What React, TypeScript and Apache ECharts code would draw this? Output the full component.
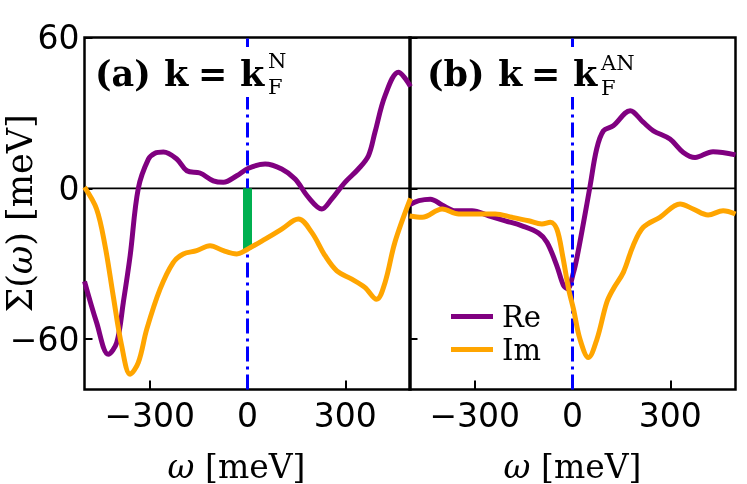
import React, { useEffect, useRef } from "react";
import * as echarts from "echarts";

const xTicks = [-300, 0, 300];
const yTicks = [-60, 0, 60];

// Panel (a): k = kF^N
const reNX = [-500, -463, -427, -401, -381, -360, -335, -304, -284, -258, -217, -186, -146, -105, -74, -33, 3, 54, 105, 146, 187, 228, 258, 299, 340, 371, 391, 422, 463, 500];
const reNY = [-37, -53.3, -66, -61.3, -45.4, -26.8, 0, 11.6, 14, 14.5, 11.7, 7, 6.1, 3, 2.4, 5, 8, 9.7, 7.7, 3.7, -3.6, -8.2, -4.3, 2.4, 7.7, 13, 22.3, 36.9, 46.2, 40.5];
const imNX = [-500, -463, -437, -412, -386, -360, -335, -309, -268, -228, -197, -156, -115, -74, -33, 0, 54, 105, 156, 197, 238, 274, 320, 360, 396, 422, 452, 500];
const imNY = [0.5, -8.2, -22.8, -42.7, -62.6, -73.9, -69.3, -56, -40, -29.5, -26.1, -24.8, -22.8, -24.8, -26.1, -24.2, -20.2, -16.2, -12.2, -17.5, -26.8, -32.8, -36.1, -39.4, -44.1, -37.4, -21.5, -4];
const imAtZeroN = -24.2;

// Panel (b): k = kF^AN
const reANX = [-500, -471, -436, -400, -359, -308, -257, -206, -155, -104, -78, -48, -28, -15, 3, 13, 34, 54, 74, 95, 125, 177, 217, 248, 299, 340, 376, 431, 500];
const reANY = [-6.5, -4.9, -4.3, -6.6, -8.9, -8.9, -10.9, -12.9, -14.9, -17.8, -21.5, -30.8, -38.5, -40, -33.5, -28, -13.5, 1, 15.6, 22.9, 24.9, 30.9, 26.3, 22.9, 19.6, 14.3, 12.3, 14.6, 13.3];
const imANX = [-500, -461, -400, -349, -288, -237, -186, -135, -94, -68, -48, -30, -12, 3, 23, 49, 75, 105, 125, 156, 186, 217, 268, 330, 370, 416, 462, 500];
const imANY = [-11, -11.5, -8.2, -10.2, -10.2, -10.2, -11.5, -12.9, -14.2, -13.5, -16.2, -27, -40, -48, -60, -67.3, -60, -45.4, -40, -33.4, -22.8, -15.5, -11.5, -6.2, -8.2, -10.6, -8.9, -10.2];

const X_RANGE = [-500, 500];
const Y_RANGE = [-80, 60];

const zip = (xs: number[], ys: number[]) => xs.map((x, i) => [x, ys[i]]);

const RE = "#800080";
const IM = "#FFA500";
const SERIF = "DejaVu Serif";
const SANS = "DejaVu Sans";

const minus = (v: number) => String(v).replace("-", "\u2212");

export default function App() {
  const ref = useRef<HTMLDivElement>(null);
  useEffect(() => {
    const chart = echarts.init(ref.current!, null, { renderer: "svg" });
    const grids = [
      { left: 84.5, top: 37.5, width: 326, height: 352 },
      { left: 409.5, top: 37.5, width: 326, height: 352 },
    ].map((g) => ({
      ...g,
      show: true,
      borderColor: "#000",
      borderWidth: 2.5,
      backgroundColor: "transparent",
      containLabel: false,
      outerBoundsMode: "none",
    }));

    const tick = { inside: true, length: 9, lineStyle: { color: "#000", width: 2 } };
    const labelRich = (size: number) => ({
      i: { fontFamily: SERIF, fontSize: size, fontStyle: "italic", color: "#000" },
      n: { fontFamily: SERIF, fontSize: size, color: "#000" },
    });
    const xAxis = [0, 1].map((i) => ({
      type: "value",
      gridIndex: i,
      min: X_RANGE[0],
      max: X_RANGE[1],
      axisLine: { show: false, onZero: false },
      splitLine: { show: false },
      axisTick: { ...tick, customValues: xTicks },
      axisLabel: { customValues: xTicks, formatter: minus, fontFamily: SANS, fontSize: 33, color: "#000", margin: 9 },
      name: "{i|ω}{n| [meV]}",
      nameLocation: "middle",
      nameGap: 60,
      nameTextStyle: {
        padding: i === 0 ? [0, 22, 0, 0] : [0, 0, 0, 0],
        rich: labelRich(33),
      },
    }));
    const yAxis = [0, 1].map((i) => ({
      type: "value",
      gridIndex: i,
      min: Y_RANGE[0],
      max: Y_RANGE[1],
      axisLine: { show: false, onZero: false },
      splitLine: { show: false },
      axisTick: { ...tick, length: 8, customValues: yTicks },
      axisLabel: { show: i === 0, customValues: yTicks, formatter: minus, fontFamily: SANS, fontSize: 33, color: "#000", margin: 5 },
      name: i === 0 ? "{n|Σ(}{i|ω}{n|) [meV]}" : "",
      nameLocation: "middle",
      nameGap: 47,
      nameMoveOverlap: false,
      nameRotate: 90,
      nameTextStyle: { rich: labelRich(35) },
    }));

    const panels = [
      { re: zip(reNX, reNY), im: zip(imNX, imNY), green: true },
      { re: zip(reANX, reANY), im: zip(imANX, imANY), green: false },
    ];
    const series: any[] = [];
    panels.forEach((p, i) => {
      series.push({
        type: "line",
        xAxisIndex: i,
        yAxisIndex: i,
        data: [[X_RANGE[0], 0], [X_RANGE[1], 0]],
        symbol: "none",
        lineStyle: { color: "#000", width: 1.8 },
        z: 1,
        silent: true,
      });
      series.push({
        name: "Re",
        type: "line",
        xAxisIndex: i,
        yAxisIndex: i,
        data: p.re,
        smooth: 0.35,
        symbol: "none",
        showSymbol: false,
        lineStyle: { color: RE, width: 5 },
        itemStyle: { color: RE },
        z: 2,
      });
      series.push({
        type: "line",
        xAxisIndex: i,
        yAxisIndex: i,
        data: [[0, Y_RANGE[0]], [0, Y_RANGE[1]]],
        symbol: "none",
        lineStyle: { color: "#0000FF", width: 3, type: [15, 5, 3, 5] },
        z: 3,
        silent: true,
      });
      if (p.green) {
        series.push({
          type: "line",
          xAxisIndex: i,
          yAxisIndex: i,
          data: [[0, 0], [0, imAtZeroN]],
          symbol: "none",
          lineStyle: { color: "#00B050", width: 9, cap: "butt" },
          z: 4,
          silent: true,
        });
      }
      series.push({
        name: "Im",
        type: "line",
        xAxisIndex: i,
        yAxisIndex: i,
        data: p.im,
        smooth: 0.35,
        symbol: "none",
        showSymbol: false,
        lineStyle: { color: IM, width: 5 },
        itemStyle: { color: IM },
        z: 5,
      });
    });

    const bold = `bold 35px "${SERIF}"`;
    const small = `21px "${SERIF}"`;
    const t = (text: string, x: number, y: number, font: string) => ({
      type: "text",
      x,
      y,
      z: 101,
      silent: true,
      style: { text, font, fill: "#000", align: "left", verticalAlign: "middle" },
    });

    chart.setOption({
      animation: false,
      grid: grids,
      xAxis,
      yAxis,
      series,
      legend: {
        data: ["Re", "Im"],
        orient: "vertical",
        left: 451,
        top: 302,
        padding: 0,
        icon: "rect",
        itemWidth: 42,
        itemHeight: 5,
        itemGap: 4,
        selectedMode: false,
        textStyle: { fontFamily: SERIF, fontSize: 29, color: "#000", padding: [0, 0, 0, 4] },
      },
      graphic: [
        { type: "rect", z: 100, silent: true, shape: { x: 90, y: 47, width: 200, height: 50 }, style: { fill: "#fff" } },
        { type: "rect", z: 100, silent: true, shape: { x: 423, y: 47, width: 222, height: 50 }, style: { fill: "#fff" } },
        t("(a)", 95, 73, bold),
        t("k", 164, 73, bold),
        t("=", 198, 73, bold),
        t("k", 240, 73, bold),
        t("N", 268, 61, small),
        t("F", 268, 87, small),
        t("(b)", 427, 73, bold),
        t("k", 498, 73, bold),
        t("=", 531, 73, bold),
        t("k", 573, 73, bold),
        t("AN", 601, 63, small),
        t("F", 601, 88, small),
      ],
    });
    return () => chart.dispose();
  }, []);
  return <div ref={ref} style={{ position: "fixed", left: 0, top: 0, width: 747, height: 484 }} />;
}
